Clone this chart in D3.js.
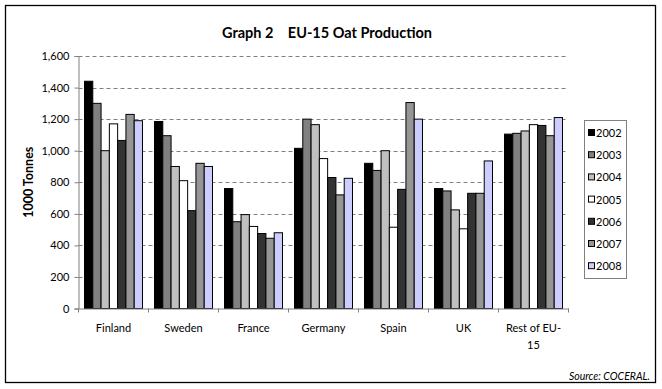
<!DOCTYPE html>
<html>
<head>
<meta charset="utf-8">
<script src="https://cdn.jsdelivr.net/npm/d3@7/dist/d3.min.js"></script>
<style>
	body { margin: 0; background: #fff; }
	svg text { font-family: Lato, "Open Sans", sans-serif; fill: #000; }
</style>
</head>
<body>
<svg id="chart" width="662" height="389"></svg>
<script>
'use strict';

var countries = ['Finland', 'Sweden', 'France', 'Germany', 'Spain', 'UK', 'Rest of EU-15'];
var years = ['2002', '2003', '2004', '2005', '2006', '2007', '2008'];
var colours = ['#000000', '#808080', '#c0c0c0', '#ffffff', '#333333', '#969696', '#ccccff'];

// 1000 tonnes, one array per country, 2002..2008
var finland = [1440, 1300, 1000, 1170, 1065, 1230, 1190];
var sweden = [1185, 1095, 900, 810, 620, 920, 900];
var france = [760, 550, 595, 520, 475, 445, 480];
var germany = [1015, 1200, 1165, 950, 830, 720, 825];
var spain = [920, 875, 1000, 515, 755, 1305, 1200];
var uk = [760, 745, 625, 505, 730, 730, 935];
var restOfEU = [1105, 1110, 1125, 1165, 1160, 1095, 1210];

var yTicks = [0, 200, 400, 600, 800, 1000, 1200, 1400, 1600];

(function() {

	var values = [finland, sweden, france, germany, spain, uk, restOfEU];

	var svg = d3.select('#chart');

	// outer frame
	svg.append('rect')
		.attr('x', 5.5).attr('y', 5.5)
		.attr('width', 650).attr('height', 377)
		.attr('fill', 'none').attr('stroke', '#000').attr('stroke-width', 1.3);

	svg.append('text')
		.attr('x', 327).attr('y', 38)
		.attr('text-anchor', 'middle')
		.style('font-size', '14.5px').style('font-weight', 'bold')
		.text('Graph 2\u2003 EU-15 Oat Production');

	var left = 78.5, right = 568.5, plotTop = 56, bottom = 308.5;

	var x0 = d3.scaleBand().domain(countries).range([left, right]);
	var x1 = d3.scaleBand().domain(years).range([6, x0.bandwidth() - 6]);
	var y = d3.scaleLinear().domain([0, 1600]).range([bottom, plotTop]);

	// gridlines
	svg.append('g').selectAll('line')
		.data(yTicks.filter(function(d) { return d > 0; }))
		.enter().append('line')
		.attr('x1', left).attr('x2', right)
		.attr('y1', function(d) { return Math.round(y(d)) + 0.5; })
		.attr('y2', function(d) { return Math.round(y(d)) + 0.5; })
		.attr('stroke', '#808080').attr('stroke-dasharray', '4,3');

	// bars
	var groups = svg.append('g').selectAll('g')
		.data(values)
		.enter().append('g')
		.attr('transform', function(d, i) { return 'translate(' + x0(countries[i]) + ',0)'; });

	groups.selectAll('rect')
		.data(function(d) { return d; })
		.enter().append('rect')
		.attr('x', function(d, i) { return x1(years[i]); })
		.attr('y', function(d) { return y(d); })
		.attr('width', x1.bandwidth())
		.attr('height', function(d) { return bottom - y(d); })
		.attr('fill', function(d, i) { return colours[i]; })
		.attr('stroke', '#000').attr('stroke-width', 1);

	// y axis
	var yAxis = svg.append('g')
		.attr('transform', 'translate(' + left + ',0)')
		.call(d3.axisLeft(y).tickValues(yTicks).tickSize(4).tickPadding(5).tickFormat(d3.format(',')));
	yAxis.select('.domain').attr('stroke', '#808080');
	yAxis.selectAll('.tick line').attr('stroke', '#808080');
	yAxis.selectAll('text').style('font-size', '11px').attr('font-family', null);

	svg.append('text')
		.attr('transform', 'translate(33,' + ((plotTop + bottom) / 2) + ') rotate(-90)')
		.attr('text-anchor', 'middle')
		.style('font-size', '12.5px').style('font-weight', 'bold')
		.text('1000 Tonnes');

	// x axis
	var xAxis = svg.append('g')
		.attr('transform', 'translate(0,' + bottom + ')')
		.call(d3.axisBottom(x0).tickSize(0).tickPadding(0).tickSizeOuter(0));
	xAxis.select('.domain').attr('stroke', '#808080');
	xAxis.selectAll('.tick text').remove();
	svg.append('g').selectAll('line')
		.data(countries.concat(['end']))
		.enter().append('line')
		.attr('x1', function(d, i) { return left + i * x0.bandwidth(); })
		.attr('x2', function(d, i) { return left + i * x0.bandwidth(); })
		.attr('y1', bottom).attr('y2', bottom + 4)
		.attr('stroke', '#808080');

	var labelLines = {'Rest of EU-15': ['Rest of EU-', '15']};
	var labels = svg.append('g').selectAll('text')
		.data(countries)
		.enter().append('text')
		.attr('x', function(d) { return x0(d) + x0.bandwidth() / 2; })
		.attr('y', 332)
		.attr('text-anchor', 'middle')
		.style('font-size', '11px');
	labels.each(function(d) {
		var lines = labelLines[d] || [d];
		var t = d3.select(this);
		lines.forEach(function(line, i) {
			t.append('tspan')
				.attr('x', x0(d) + x0.bandwidth() / 2)
				.attr('dy', i === 0 ? 0 : 17)
				.text(line);
		});
	});

	// legend
	var legend = svg.append('g');
	legend.append('rect')
		.attr('x', 584.5).attr('y', 120.5)
		.attr('width', 42).attr('height', 158)
		.attr('fill', '#fff').attr('stroke', '#808080');
	var items = legend.selectAll('g.item')
		.data(years)
		.enter().append('g')
		.attr('class', 'item')
		.attr('transform', function(d, i) { return 'translate(588,' + (133 + i * 22.2) + ')'; });
	items.append('rect')
		.attr('x', 0.5).attr('y', -3.5)
		.attr('width', 6).attr('height', 6)
		.attr('fill', function(d, i) { return colours[i]; })
		.attr('stroke', '#000');
	items.append('text')
		.attr('x', 8).attr('y', 4)
		.style('font-size', '11px')
		.text(function(d) { return d; });

	svg.append('text')
		.attr('x', 650).attr('y', 380)
		.attr('text-anchor', 'end')
		.style('font-size', '10.5px').style('font-style', 'italic')
		.text('Source: COCERAL.');
})();
</script>
</body>
</html>
